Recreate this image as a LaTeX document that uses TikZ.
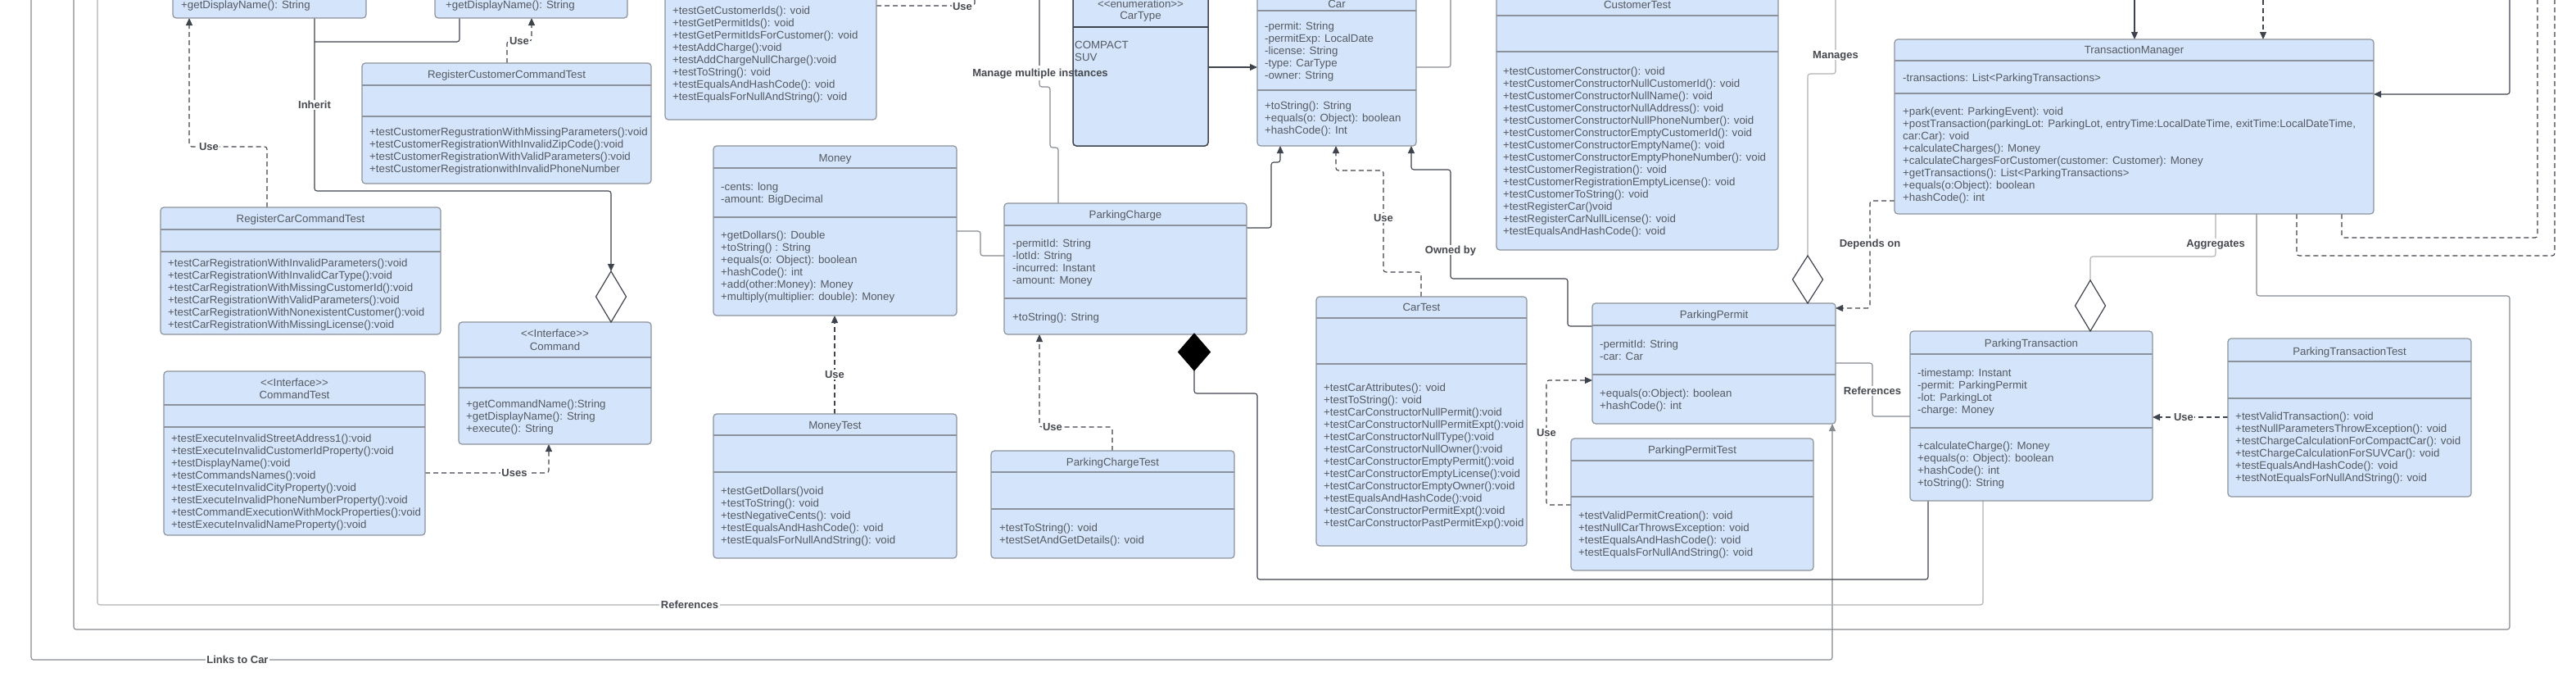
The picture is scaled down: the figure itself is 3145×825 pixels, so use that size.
\documentclass[tikz,border=0pt]{standalone}
\usepackage{fontspec}
\setmainfont{Liberation Sans}
\usetikzlibrary{arrows.meta}
\pgfdeclarelayer{bgw}
\pgfdeclarelayer{wires}
\pgfsetlayers{bgw,wires,main}
\definecolor{boxfill}{HTML}{D4E4FB}
\definecolor{boxline}{HTML}{8C929B}
\definecolor{txt}{HTML}{555A61}
\definecolor{lbltxt}{HTML}{45494F}
\definecolor{dark}{HTML}{3E444D}
\definecolor{mid}{HTML}{858A90}
\definecolor{light}{HTML}{AEB1B5}
\newcommand\fs{\fontsize{13.3}{15}\selectfont}
\newcommand\fl{\fontsize{13}{15}\selectfont\bfseries}
\tikzset{
 cls/.style={draw=boxline, fill=boxfill, line width=1.2pt, rounded corners=4pt, inner sep=0pt, outer sep=0pt},
 sepl/.style={draw=boxline, line width=1.2pt},
 ttl/.style={font=\fs, text=txt, inner sep=0pt, text height=9.4pt, text depth=0pt},
 lst/.style={font=\fs, text=txt, inner sep=0pt, anchor=north west, align=left},
 lbl/.style={font=\fl, text=lbltxt, fill=white, inner sep=1.5pt, text height=9.4pt, text depth=0pt},
 lblnf/.style={font=\fl, text=lbltxt, inner sep=1.5pt, text height=9.4pt, text depth=0pt},
 conn/.style={draw=dark, line width=1.1pt, rounded corners=3pt},
 connm/.style={draw=mid, line width=1.1pt, rounded corners=3pt},
 connl/.style={draw=light, line width=1.1pt, rounded corners=3pt},
 dep/.style={draw=dark, line width=1.1pt, dash pattern=on 6pt off 4pt, rounded corners=3pt},
 tip/.style={-{Triangle[length=9pt,width=8pt]}},
 hd/.style={draw=dark, fill=white, line width=1.2pt},
 fd/.style={draw=black, fill=black, line width=1pt},
}
\newcommand\ubox[6]{%
 \node[cls, minimum width={(#4)-(#2)}, minimum height={(#5)-(#3)}] (#1) at ({((#2)+(#4))/2},{((#3)+(#5))/2}) {};
 \foreach \sy in {#6}{\draw[sepl] (#2,\sy) -- (#4,\sy);}
}
\newcommand\utxt[4]{\node[lst] (#1) at (#2,{#3-6}) {\strut#4};}
\newcommand\uttl[4]{\node[ttl] (#1) at (#2,#3) {#4};}
\newcommand\hdia[3]{\draw[hd] (#1,#2) -- ({#1+18.5},{(#2+#3)/2}) -- (#1,#3) -- ({#1-18.5},{(#2+#3)/2}) -- cycle;}
\begin{document}
\begin{tikzpicture}[x=1pt,y=-1pt]
\useasboundingbox (0,0) rectangle (3145,825);
\begin{pgfonlayer}{bgw}
\fill[white] (0,0) rectangle (3145,825);
\end{pgfonlayer}

% ---------- class boxes ----------
\ubox{tl}{211}{-60}{447}{22}{-40}
\ubox{tm}{531}{-60}{766}{22}{-40}
\ubox{rcct}{442}{77}{795}{224}{104,142}
\ubox{rcat}{196}{253}{538}{408}{280,307}
\ubox{cmdt}{200}{453}{519}{653}{494,521}
\ubox{cmd}{560}{393}{795}{542}{436,473}
\ubox{pmt}{812}{-160}{1070}{146}{-140}
\ubox{money}{871}{178}{1168}{385}{205,265}
\ubox{moneyt}{871}{505}{1168}{681}{531,576}
\node[cls, draw=dark, line width=1.5pt, minimum width=165, minimum height=190] (ct) at (1392.5,83) {};
\draw[dark, line width=2pt] (1310,33) -- (1475,33);
\ubox{car}{1535}{-20}{1729}{178}{13,110}
\ubox{pc}{1226}{248}{1522}{408}{275,364}
\ubox{pct}{1210}{550}{1507}{681}{576,621}
\ubox{cart}{1607}{362}{1864}{666}{388,444}
\ubox{cust}{1827}{-8}{2171}{305}{19,63}
\ubox{pp}{1944}{370}{2241}{517}{397,457}
\ubox{ppt}{1918}{535}{2214}{696}{562,606}
\ubox{tmgr}{2313}{48}{2898}{261}{74,114}
\ubox{pt}{2332}{404}{2628}{611}{432,522}
\ubox{ptt}{2720}{413}{3017}{606}{441,486}

% ---------- titles ----------
\uttl{rcct-t}{618.5}{91}{RegisterCustomerCommandTest}
\uttl{rcat-t}{367}{267}{RegisterCarCommandTest}
\uttl{cmdt-s}{359.5}{467}{<\kern0pt<Interface>\kern0pt>}
\uttl{cmdt-t}{359.5}{482}{CommandTest}
\uttl{cmd-s}{677.5}{407}{<\kern0pt<Interface>\kern0pt>}
\uttl{cmd-t}{677.5}{423}{Command}
\uttl{money-t}{1019.5}{193}{Money}
\uttl{moneyt-t}{1019.5}{519}{MoneyTest}
\uttl{ct-s}{1392.5}{5}{<\kern0pt<enumeration>\kern0pt>}
\uttl{ct-t}{1392.5}{19}{CarType}
\uttl{car-t}{1632}{5}{Car}
\uttl{pc-t}{1374}{262}{ParkingCharge}
\uttl{pct-t}{1358.5}{564}{ParkingChargeTest}
\uttl{cart-t}{1735.5}{375}{CarTest}
\uttl{cust-t}{1999}{6}{CustomerTest}
\uttl{pp-t}{2092.5}{384}{ParkingPermit}
\uttl{ppt-t}{2066}{549}{ParkingPermitTest}
\uttl{tmgr-t}{2605.5}{61}{TransactionManager}
\uttl{pt-t}{2480}{419}{ParkingTransaction}
\uttl{ptt-t}{2868.5}{429}{ParkingTransactionTest}

% ---------- member lists ----------
\utxt{tl-m}{221}{6}{+getDisplayName(): String}
\utxt{tm-m}{544}{6}{+getDisplayName(): String}
\utxt{rcct-m}{451}{161}{+testCustomerRegustrationWithMissingParameters():void\\+testCustomerRegistrationWithInvalidZipCode():void\\+testCustomerRegistrationWithValidParameters():void\\+testCustomerRegistrationwithInvalidPhoneNumber}
\utxt{rcat-m}{205}{321}{+testCarRegistrationWithInvalidParameters():void\\+testCarRegistrationWithInvalidCarType():void\\+testCarRegistrationWithMissingCustomerId():void\\+testCarRegistrationWithValidParameters():void\\+testCarRegistrationWithNonexistentCustomer():void\\+testCarRegistrationWithMissingLicense():void}
\utxt{cmdt-m}{209}{535}{+testExecuteInvalidStreetAddress1():void\\+testExecuteInvalidCustomerIdProperty():void\\+testDisplayName():void\\+testCommandsNames():void\\+testExecuteInvalidCityProperty():void\\+testExecuteInvalidPhoneNumberProperty():void\\+testCommandExecutionWithMockProperties():void\\+testExecuteInvalidNameProperty():void}
\utxt{cmd-m}{569}{493}{+getCommandName():String\\+getDisplayName(): String\\+execute(): String}
\utxt{pmt-m}{821}{13}{+testGetCustomerIds(): void\\+testGetPermitIds(): void\\+testGetPermitIdsForCustomer(): void\\+testAddCharge():void\\+testAddChargeNullCharge():void\\+testToString(): void\\+testEqualsAndHashCode(): void\\+testEqualsForNullAndString(): void}
\utxt{money-a}{880}{228}{-cents: long\\-amount: BigDecimal}
\utxt{money-m}{880}{287}{+getDollars(): Double\\+toString() : String\\+equals(o: Object): boolean\\+hashCode(): int\\+add(other:Money): Money\\+multiply(multiplier: double): Money}
\utxt{moneyt-m}{880}{599}{+testGetDollars()void\\+testToString(): void\\+testNegativeCents(): void\\+testEqualsAndHashCode(): void\\+testEqualsForNullAndString(): void}
\utxt{ct-v}{1312}{55}{COMPACT\\SUV}
\utxt{car-a}{1544}{32}{-permit: String\\-permitExp: LocalDate\\-license: String\\-type: CarType\\-owner: String}
\utxt{car-m}{1544}{129}{+toString(): String\\+equals(o: Object): boolean\\+hashCode(): Int}
\utxt{pc-a}{1236}{297}{-permitId: String\\-lotId: String\\-incurred: Instant\\-amount: Money}
\utxt{pc-m}{1236}{387}{+toString(): String}
\utxt{pct-m}{1220}{644}{+testToString(): void\\+testSetAndGetDetails(): void}
\utxt{cart-m}{1616}{473}{+testCarAttributes(): void\\+testToString(): void\\+testCarConstructorNullPermit():void\\+testCarConstructorNullPermitExpt():void\\+testCarConstructorNullType():void\\+testCarConstructorNullOwner():void\\+testCarConstructorEmptyPermit():void\\+testCarConstructorEmptyLicense():void\\+testCarConstructorEmptyOwner():void\\+testEqualsAndHashCode():void\\+testCarConstructorPermitExpt():void\\+testCarConstructorPastPermitExp():void}
\utxt{cust-m}{1835}{87}{+testCustomerConstructor(): void\\+testCustomerConstructorNullCustomerId(): void\\+testCustomerConstructorNullName(): void\\+testCustomerConstructorNullAddress(): void\\+testCustomerConstructorNullPhoneNumber(): void\\+testCustomerConstructorEmptyCustomerId(): void\\+testCustomerConstructorEmptyName(): void\\+testCustomerConstructorEmptyPhoneNumber(): void\\+testCustomerRegistration(): void\\+testCustomerRegistrationEmptyLicense(): void\\+testCustomerToString(): void\\+testRegisterCar()void\\+testRegisterCarNullLicense(): void\\+testEqualsAndHashCode(): void}
\utxt{pp-a}{1953}{420}{-permitId: String\\-car: Car}
\utxt{pp-m}{1953}{480}{+equals(o:Object): boolean\\+hashCode(): int}
\utxt{ppt-m}{1927}{629}{+testValidPermitCreation(): void\\+testNullCarThrowsException: void\\+testEqualsAndHashCode(): void\\+testEqualsForNullAndString(): void}
\utxt{tmgr-a}{2323}{95}{-transactions: List<ParkingTransactions>}
\utxt{tmgr-m}{2323}{136}{+park(event: ParkingEvent): void\\+postTransaction(parkingLot: ParkingLot, entryTime:LocalDateTime, exitTime:LocalDateTime,\\car:Car): void\\+calculateCharges(): Money\\+calculateChargesForCustomer(customer: Customer): Money\\+getTransactions(): List<ParkingTransactions>\\+equals(o:Object): boolean\\+hashCode(): int}
\utxt{pt-a}{2341}{455}{-timestamp: Instant\\-permit: ParkingPermit\\-lot: ParkingLot\\-charge: Money}
\utxt{pt-m}{2341}{544}{+calculateCharge(): Money\\+equals(o: Object): boolean\\+hashCode(): int\\+toString(): String}
\utxt{ptt-m}{2729}{508}{+testValidTransaction(): void\\+testNullParametersThrowException(): void\\+testChargeCalculationForCompactCar(): void\\+testChargeCalculationForSUVCar(): void\\+testEqualsAndHashCode(): void\\+testNotEqualsForNullAndString(): void}

% ---------- connectors ----------
\begin{pgfonlayer}{wires}
\draw[connm,tip] (38,-10) -- (38,805) -- (2237,805) -- (pp.south -| 2237,0);
\draw[connm] (tmgr.south -| 2755,0) -- (2755,361) -- (3064,361) -- (3064,768) -- (90,768) -- (90,-10);
\draw[connl] (pt.south -| 2421,0) -- (2421,738) -- (119,738) -- (119,-10);
\draw[conn,tip] (tl.south -| 384,0) -- (384,233) -- (746,233) -- (746,331);
\draw[conn] (tm.south -| 561,0) -- (561,51) -- (384,51);
\draw[dep,tip] (rcat.north -| 326,0) -- (326,179) -- (231,179) -- (tl.south -| 231,0);
\draw[dep,tip] (rcct.north -| 619,0) -- (619,50) -- (649,50) -- (tm.south -| 649,0);
\draw[dep,tip] (cmdt.east |- 0,577) -- (670,577) -- (cmd.south -| 670,0);
\draw[dep,tip] (moneyt.north -| 1019,0) -- (money.south -| 1019,0);
\draw[connm] (money.east |- 0,282) -- (1197,282) -- (1197,312) -- (pc.west |- 0,312);
\draw[dep] (pmt.east |- 0,7) -- (1190,7) -- (1190,-10);
\draw[connm] (1269,-10) -- (1269,80);
\draw[connm] (1269,98) -- (1269,106) -- (1282,106) -- (1282,180) -- (1292,180) -- (pc.north -| 1292,0);
\draw[conn,tip] (ct.east |- 0,82) -- (car.west |- 0,82);
\draw[connm] (car.east |- 0,82) -- (1771,82) -- (1771,-10);
\draw[conn,tip] (pc.east |- 0,278) -- (1552,278) -- (1552,198) -- (1563,198) -- (car.south -| 1563,0);
\draw[dep,tip] (pct.north -| 1358,0) -- (1358,521) -- (1269,521) -- (pc.south -| 1269,0);
\draw[dep,tip] (cart.north -| 1735,0) -- (1735,332) -- (1689,332) -- (1689,208) -- (1631,208) -- (car.south -| 1631,0);
\draw[conn,tip] (pp.west |- 0,398) -- (1914,398) -- (1914,340) -- (1771,340) -- (1771,207) -- (1723,207) -- (car.south -| 1723,0);
\draw[conn] (1458,452) -- (1458,480) -- (1535,480) -- (1535,707) -- (2354,707) -- (pt.south -| 2354,0);
\draw[connl] (2241,-10) -- (2241,90) -- (2207,90) -- (2207,313);
\draw[dep,tip] (tmgr.west |- 0,245) -- (2283,245) -- (2283,376) -- (pp.east |- 0,376);
\draw[connm] (pp.east |- 0,443) -- (2286,443) -- (2286,508) -- (pt.west |- 0,508);
\draw[dep,tip] (ppt.west |- 0,616) -- (1888,616) -- (1888,464) -- (pp.west |- 0,464);
\draw[conn,tip] (2606,-10) -- (tmgr.north -| 2606,0);
\draw[dep,tip] (2763,-10) -- (tmgr.north -| 2763,0);
\draw[conn,tip] (3064,-10) -- (3064,115) -- (tmgr.east |- 0,115);
\draw[dep] (tmgr.south -| 2859,0) -- (2859,290) -- (3098,290) -- (3098,-10);
\draw[dep] (tmgr.south -| 2804,0) -- (2804,312) -- (3119,312) -- (3119,-10);
\draw[connl] (tmgr.south -| 2705,0) -- (2705,313) -- (2552,313) -- (2552,342);
\draw[dep,tip] (ptt.west |- 0,509) -- (pt.east |- 0,509);
\end{pgfonlayer}

% ---------- diamonds ----------
\hdia{746}{331}{393}
\hdia{2207}{312}{370}
\hdia{2552}{342}{404}
\draw[fd] (1458,407) -- (1477.5,429.5) -- (1458,452) -- (1438.5,429.5) -- cycle;

% ---------- labels ----------
\node[lbl] (l1) at (255,179) {Use};
\node[lbl] (l2) at (384,128) {Inherit};
\node[lbl] (l3) at (634,50) {Use};
\node[lbl] (l4) at (628,577) {Uses};
\node[lbl] (l5) at (1019,457) {Use};
\node[lbl] (l6) at (1175,8) {Use};
\node[lblnf] (l7) at (1270,89) {Manage multiple instances};
\node[lbl] (l8) at (1285,521) {Use};
\node[lbl] (l9) at (1689,266) {Use};
\node[lbl] (l10) at (1771,305) {Owned by};
\node[lbl] (l11) at (2241,67) {Manages};
\node[lbl] (l12) at (2283,297) {Depends on};
\node[lbl] (l13) at (2286,477) {References};
\node[lbl] (l14) at (2705,297) {Aggregates};
\node[lbl] (l15) at (2666,509) {Use};
\node[lbl] (l16) at (1888,528) {Use};
\node[lbl] (l17) at (842,738) {References};
\node[lbl] (l18) at (290,805) {Links to Car};
\end{tikzpicture}
\end{document}
